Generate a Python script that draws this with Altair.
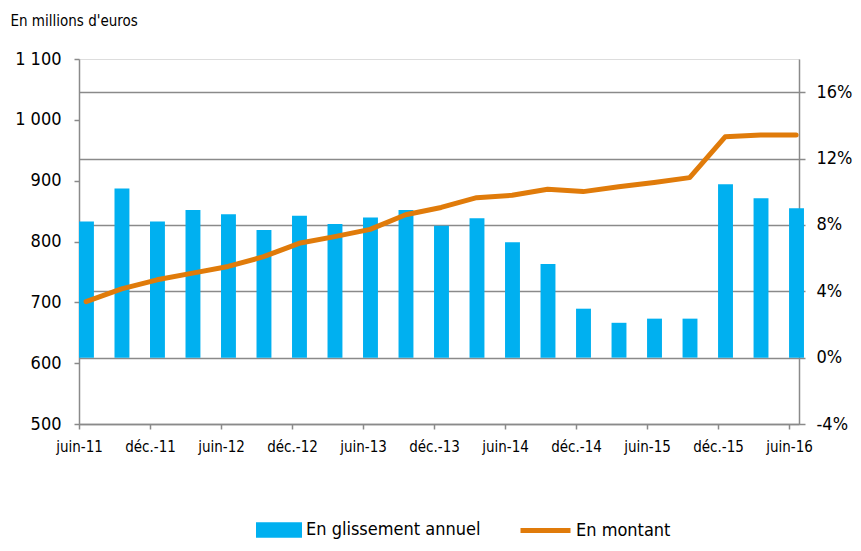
import json
import altair as alt
import pandas as pd

# ---- data ----
periods = ["juin-11", "sept.-11", "déc.-11", "mars-12", "juin-12", "sept.-12",
           "déc.-12", "mars-13", "juin-13", "sept.-13", "déc.-13", "mars-14",
           "juin-14", "sept.-14", "déc.-14", "mars-15", "juin-15", "sept.-15",
           "déc.-15", "mars-16", "juin-16"]
montant = [701, 722, 737, 748, 759, 775, 797, 808, 820, 844, 856, 872,
           876, 886, 882, 890, 897, 905, 972, 975, 975]
glissement = [8.2, 10.2, 8.2, 8.9, 8.65, 7.7, 8.55, 8.05, 8.45, 8.9, 7.95, 8.4,
              6.95, 5.65, 2.95, 2.1, 2.35, 2.35, 10.45, 9.6, 9.0]
tick_labels = periods[::2]
left_ticks = [500, 600, 700, 800, 900, 1000, 1100]
right_ticks = [-4, 0, 4, 8, 12, 16]

BLUE = "#00B0F0"
ORANGE = "#E07B0A"
GRAY = "#8a8a8a"
FONT = "DejaVu Sans Condensed"

df = pd.DataFrame({
    "idx": list(range(len(periods))),
    "period": periods,
    "montant": montant,
    "glissement": glissement,
})

xscale = alt.Scale(domain=[0, 20.28], nice=False, zero=False)
xaxis = alt.Axis(
    values=list(range(0, 21, 2)),
    labelExpr=json.dumps(tick_labels, ensure_ascii=False) + "[round(datum.value / 2)]",
    title=None, grid=False, domainColor=GRAY, domainWidth=1.5,
    tickColor=GRAY, tickWidth=1.5, tickSize=5, labelPadding=10,
    labelFontSize=15, labelFont=FONT, labelColor="#000000", labelFlush=False,
)

bars = alt.Chart(df).transform_calculate(
    x0="datum.idx", x1="datum.idx + 0.42", serie="'En glissement annuel'"
).mark_bar(color=BLUE).encode(
    x=alt.X("x0:Q", scale=xscale, axis=xaxis),
    x2="x1:Q",
    y=alt.Y("glissement:Q",
            scale=alt.Scale(domain=[-4, 18], nice=False, zero=False),
            axis=alt.Axis(orient="right", values=right_ticks,
                          labelExpr="datum.value + '%'", title=None,
                          grid=True, gridColor=GRAY, gridWidth=1.5,
                          domainColor=GRAY, domainWidth=1.5,
                          tickColor=GRAY, tickWidth=1.5, tickSize=6,
                          labelPadding=11, labelFontSize=18, labelFont=FONT,
                          labelColor="#000000", labelFlush=False)),
    y2=alt.datum(0),
    color=alt.Color("serie:N", scale=alt.Scale(range=[BLUE]),
                    legend=alt.Legend(orient="none", legendX=177, legendY=448,
                                      title=None, padding=0, labelLimit=400,
                                      symbolType="M-1,-0.34H1V0.34H-1Z",
                                      symbolSize=2116, symbolStrokeWidth=0,
                                      labelFontSize=18, labelFont=FONT,
                                      labelColor="#000000", labelOffset=4)),
)

line = alt.Chart(df).transform_calculate(
    xc="datum.idx + 0.2", serie="'En montant'"
).mark_line(strokeWidth=5, strokeCap="round", strokeJoin="round").encode(
    x=alt.X("xc:Q", scale=xscale, axis=xaxis),
    y=alt.Y("montant:Q",
            scale=alt.Scale(domain=[500, 1100], nice=False, zero=False),
            axis=alt.Axis(orient="left", values=left_ticks,
                          labelExpr="replace(format(datum.value, ','), ',', ' ')",
                          title="En millions d'euros", titleAngle=0,
                          titleAlign="left", titleBaseline="alphabetic",
                          titleX=-69, titleY=-34, titleFontSize=15,
                          titleFont=FONT, titleFontWeight="normal",
                          titleColor="#000000",
                          grid=False, domainColor=GRAY, domainWidth=1.5,
                          tickColor=GRAY, tickWidth=1.5, tickSize=5,
                          labelPadding=13, labelFontSize=18, labelFont=FONT,
                          labelColor="#000000", labelFlush=False)),
    color=alt.Color("serie:N", scale=alt.Scale(range=[ORANGE]),
                    legend=alt.Legend(orient="none", legendX=439, legendY=444,
                                      title=None, padding=0, labelLimit=400,
                                      symbolType="stroke", symbolSize=2500,
                                      symbolStrokeWidth=5,
                                      labelFontSize=18, labelFont=FONT,
                                      labelColor="#000000", labelOffset=3)),
)

chart = alt.layer(bars, line).resolve_scale(
    y="independent", color="independent"
).properties(
    width=720, height=365,
    autosize=alt.AutoSizeParams(type="none"),
    padding={"left": 71, "top": 51, "right": 54, "bottom": 117},
).configure_view(stroke=None).configure(background="white")

chart.save("out.html", embed_options={"renderer": "svg", "actions": False})
